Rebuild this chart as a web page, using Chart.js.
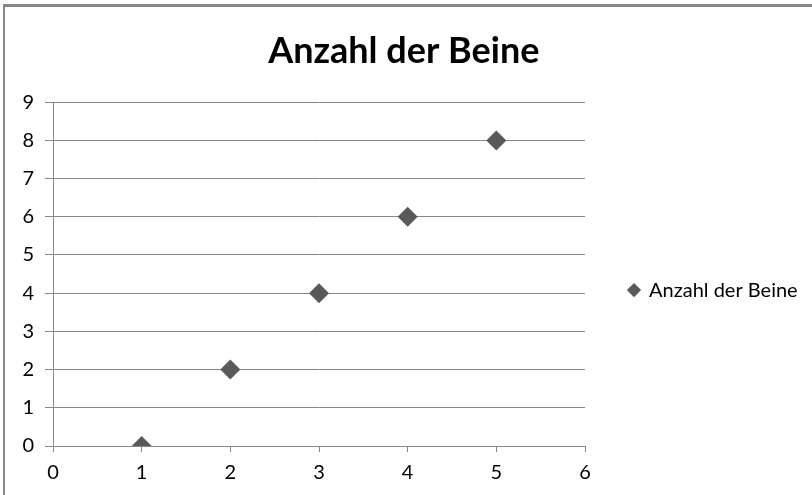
<!DOCTYPE html>
<html>
<head>
<meta charset="utf-8">
<script src="https://cdn.jsdelivr.net/npm/chart.js@4"></script>
<style>
    html, body { margin: 0; padding: 0; background: #fff; }
    #wrap { position: relative; width: 812px; height: 495px; overflow: hidden; }
    #frame {
        position: absolute; left: 3px; top: 4px; width: 900px; height: 600px;
        border-top: 3px solid #878787; border-left: 2px solid #878787;
        pointer-events: none;
    }
    canvas { position: absolute; left: 0; top: 0; }
</style>
</head>
<body>
<div id="wrap">
    <canvas id="chart" width="812" height="495"></canvas>
    <div id="frame"></div>
</div>
<script>
// Data
const seriesName = 'Anzahl der Beine';
const xValues = [1, 2, 3, 4, 5];
const yValues = [0, 2, 4, 6, 8];
const xTicks = [0, 1, 2, 3, 4, 5, 6];
const yTicks = [0, 1, 2, 3, 4, 5, 6, 7, 8, 9];

const gridColor = '#878787';
const markColor = '#595959';
const fontFamily = 'Lato, "Open Sans", sans-serif';

const points = xValues.map((x, i) => ({ x: x, y: yValues[i] }));

const ctx = document.getElementById('chart').getContext('2d');
const chart = new Chart(ctx, {
    type: 'scatter',
    data: {
        datasets: [{
            label: seriesName,
            data: points,
            pointStyle: 'rectRot',
            pointRadius: 10,
            pointHoverRadius: 10,
            borderWidth: 0,
            backgroundColor: markColor,
            borderColor: markColor
        }]
    },
    options: {
        responsive: false,
        animation: false,
        events: [],
        layout: {
            padding: { left: 0, right: 2, top: 0, bottom: 0 }
        },
        scales: {
            x: {
                type: 'linear',
                min: xTicks[0],
                max: xTicks[xTicks.length - 1],
                afterBuildTicks: scale => { scale.ticks = xTicks.map(v => ({ value: v })); },
                afterFit: scale => { scale.height = 49; },
                grid: {
                    drawOnChartArea: false,
                    drawTicks: true,
                    tickLength: 6,
                    color: gridColor,
                    lineWidth: 1
                },
                border: { display: true, color: gridColor, width: 1 },
                ticks: {
                    padding: 9,
                    color: '#000',
                    font: { family: fontFamily, size: 20 },
                    maxRotation: 0
                }
            },
            y: {
                type: 'linear',
                min: yTicks[0],
                max: yTicks[yTicks.length - 1],
                afterBuildTicks: scale => { scale.ticks = yTicks.map(v => ({ value: v })); },
                afterFit: scale => { scale.width = 53; },
                grid: {
                    drawTicks: true,
                    tickLength: 8,
                    color: gridColor,
                    lineWidth: 1
                },
                border: { display: true, color: gridColor, width: 1 },
                ticks: {
                    padding: 11,
                    color: '#000',
                    font: { family: fontFamily, size: 20 }
                }
            }
        },
        plugins: {
            title: {
                display: true,
                text: seriesName,
                color: '#000',
                font: { family: fontFamily, size: 36, weight: 'bold' },
                padding: { top: 30, bottom: 29 }
            },
            legend: {
                display: true,
                position: 'right',
                fullSize: false,
                maxWidth: 400,
                title: {
                    display: true,
                    text: '',
                    padding: { top: 0, bottom: 17.6 }
                },
                labels: {
                    usePointStyle: true,
                    pointStyle: 'rectRot',
                    boxWidth: 10,
                    boxHeight: 10,
                    padding: 44,
                    color: '#000',
                    font: { family: fontFamily, size: 20 }
                }
            },
            tooltip: { enabled: false }
        }
    }
});

// nudge the right padding so the plot area ends where the reference's does
const wantRight = 585;
const diff = chart.chartArea.right - wantRight;
if (Math.abs(diff) > 0.5) {
    chart.options.layout.padding.right = Math.max(0, chart.options.layout.padding.right + diff);
    chart.update();
}
</script>
</body>
</html>
